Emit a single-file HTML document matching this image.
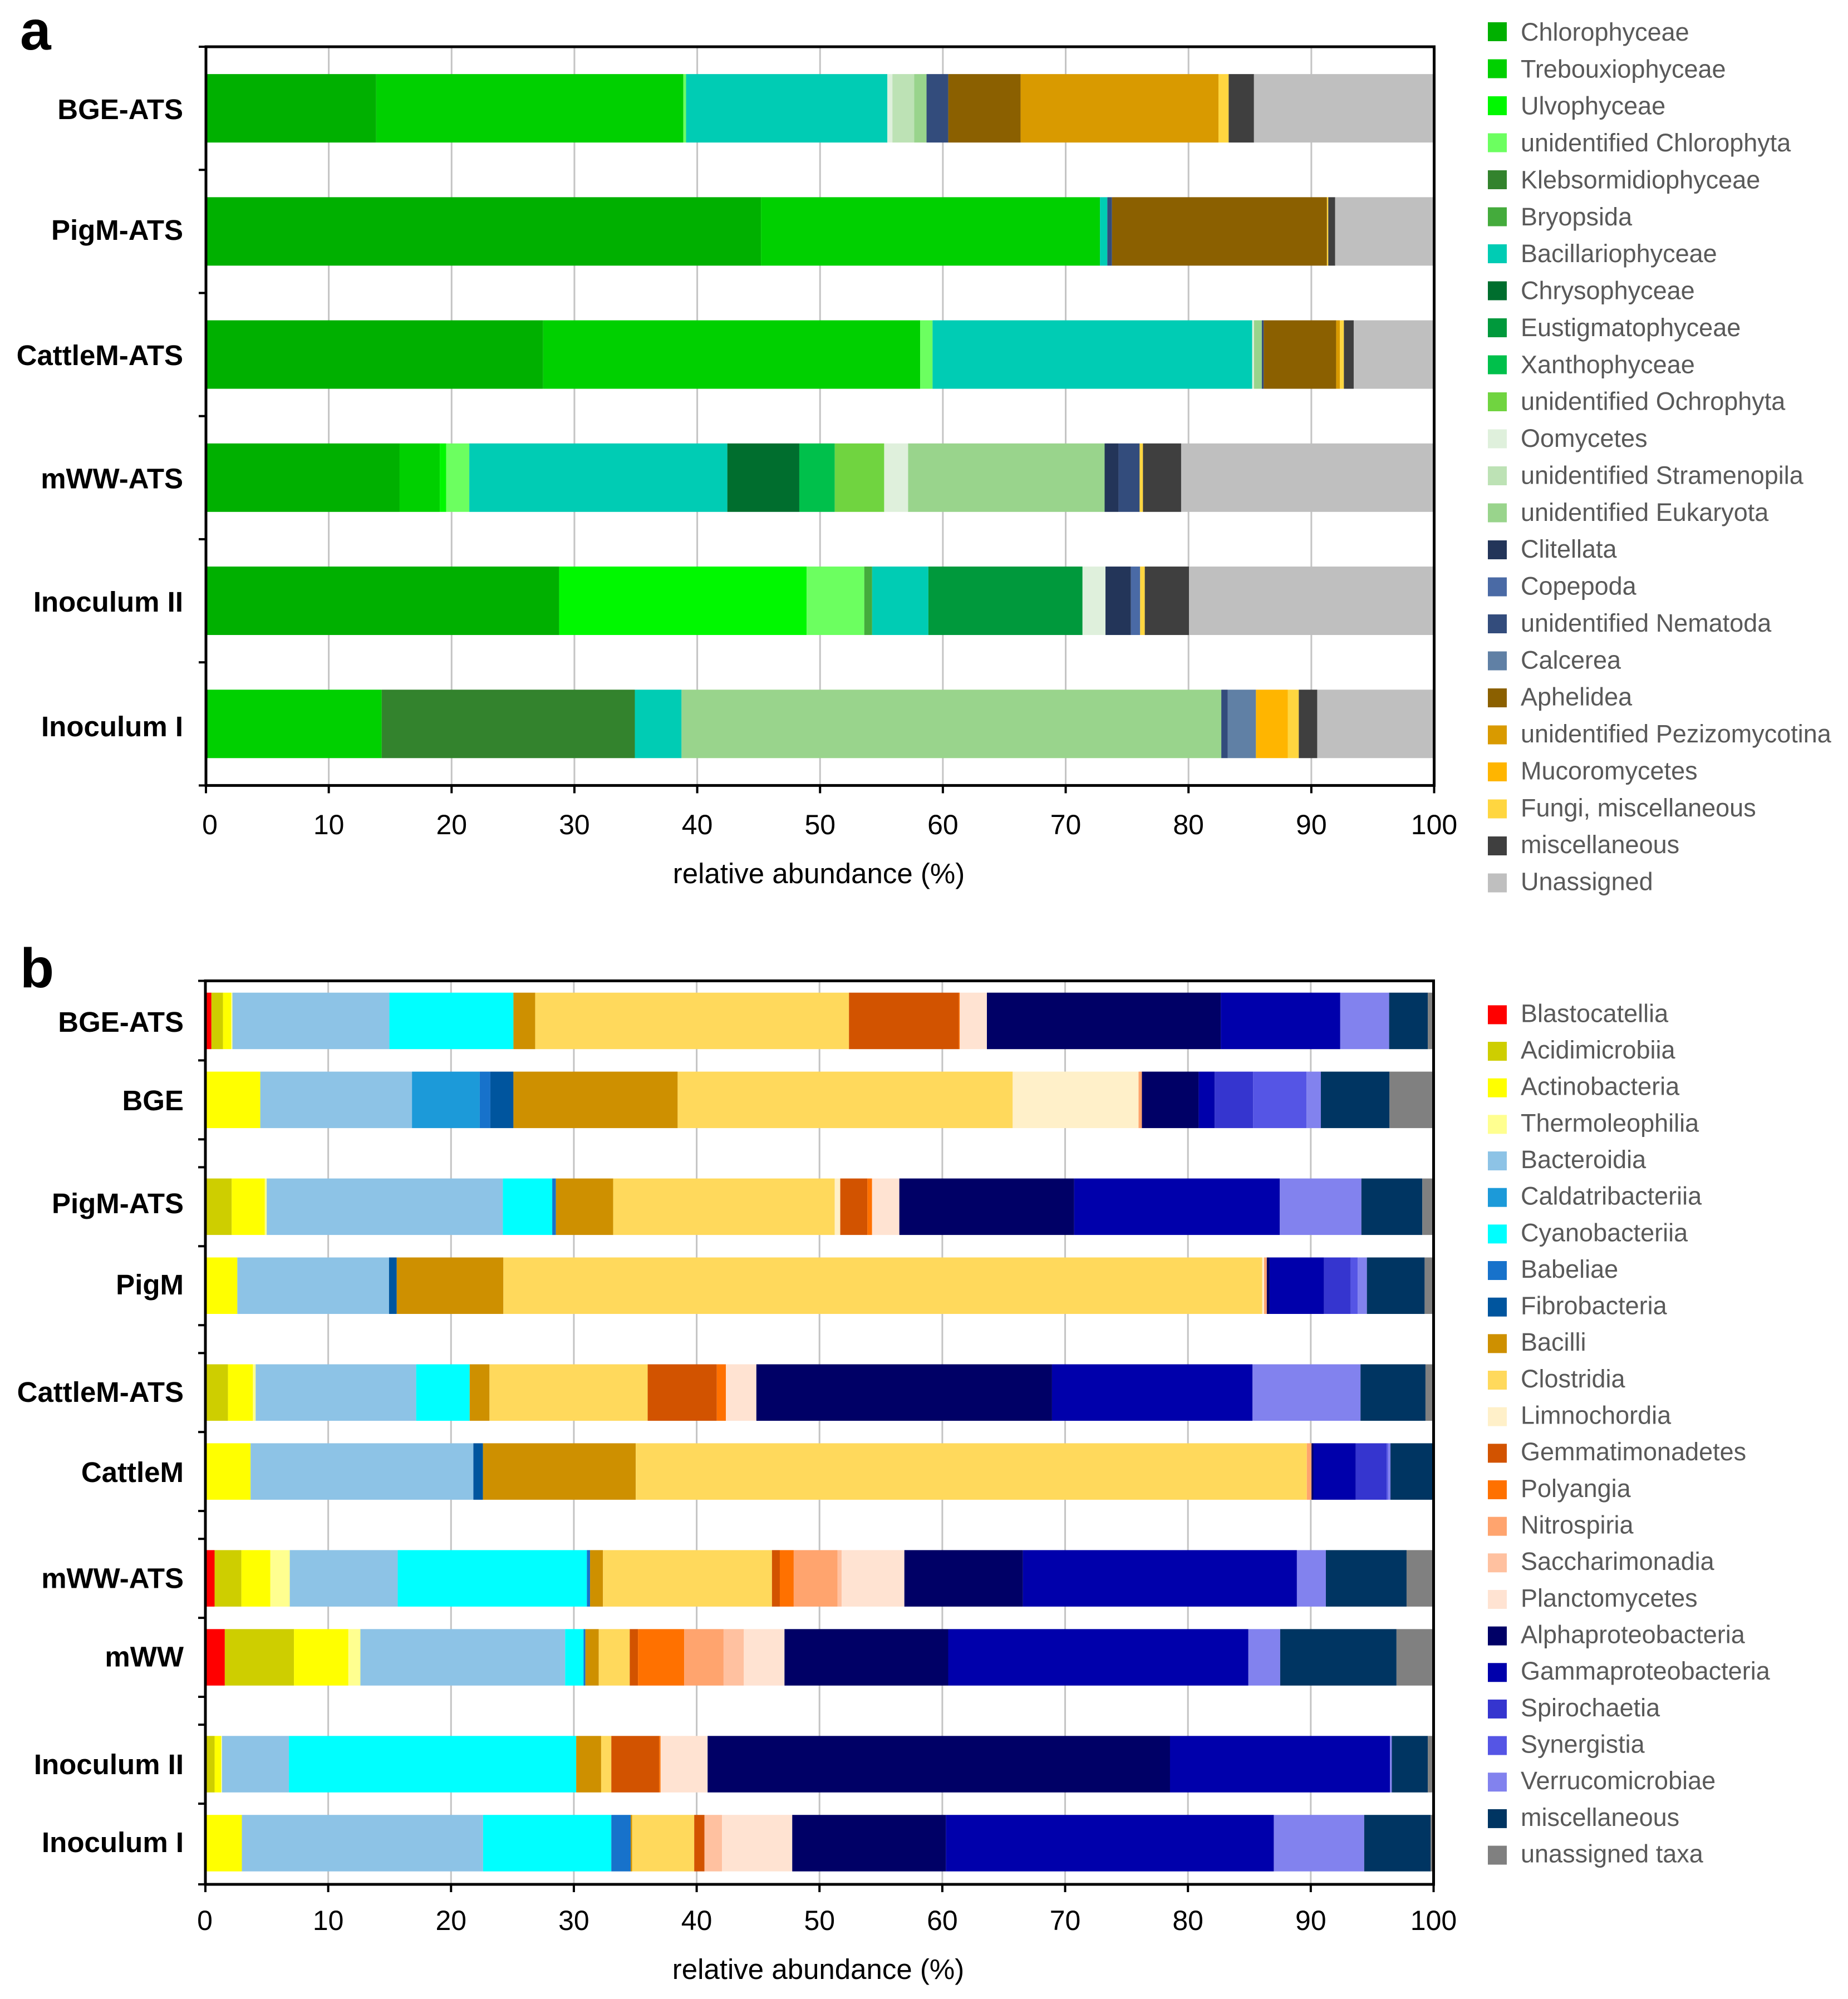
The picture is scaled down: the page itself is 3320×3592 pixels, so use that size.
<!DOCTYPE html>
<html lang="en">
<head>
<meta charset="utf-8">
<title>Relative abundance of taxa in ATS samples</title>
<style>
html,body{margin:0;padding:0;background:#fff;}
#figure{display:block;width:3320px;height:3592px;font-family:"Liberation Sans",Arial,sans-serif;}
</style>
</head>
<body>
<svg id="figure" xmlns="http://www.w3.org/2000/svg" width="3320" height="3592" viewBox="0 0 3320 3592">
<rect width="3320" height="3592" fill="#ffffff"/>
<text x="36" y="89" font-size="100" font-weight="700" fill="#000">a</text>
<text x="36" y="1774" font-size="100" font-weight="700" fill="#000">b</text>
<g id="panelA"></g>
<g id="panelB"></g>
</svg>
<script>
const tickLabels = [0, 10, 20, 30, 40, 50, 60, 70, 80, 90, 100];
const xAxisTitle = 'relative abundance (%)';

const categoriesA = ['BGE-ATS', 'PigM-ATS', 'CattleM-ATS', 'mWW-ATS', 'Inoculum II', 'Inoculum I'];
const taxaA = ['Chlorophyceae', 'Trebouxiophyceae', 'Ulvophyceae', 'unidentified Chlorophyta', 'Klebsormidiophyceae', 'Bryopsida', 'Bacillariophyceae', 'Chrysophyceae', 'Eustigmatophyceae', 'Xanthophyceae', 'unidentified Ochrophyta', 'Oomycetes', 'unidentified Stramenopila', 'unidentified Eukaryota', 'Clitellata', 'Copepoda', 'unidentified Nematoda', 'Calcerea', 'Aphelidea', 'unidentified Pezizomycotina', 'Mucoromycetes', 'Fungi, miscellaneous', 'miscellaneous', 'Unassigned'];
const coloursA = ['#00b000', '#00d000', '#00f800', '#6cff60', '#33832d', '#44ab3c', '#00ccb4', '#006e2e', '#00993c', '#00c04b', '#70d440', '#dff0dc', '#bde2b5', '#99d48c', '#233559', '#4a6aa5', '#334c7c', '#6080a5', '#8b6000', '#d99a00', '#ffb500', '#ffd640', '#3f3f3f', '#bfbfbf'];
const aBgeAts = [13.86, 25.01, 0, 0.22, 0, 0, 16.39, 0, 0, 0, 0, 0.41, 1.77, 1.01, 0, 0, 1.77, 0, 5.89, 16.11, 0, 0.83, 2.06, 14.67];
const aPigmAts = [45.19, 27.6, 0, 0, 0, 0, 0.6, 0, 0, 0, 0, 0, 0, 0, 0, 0, 0.38, 0, 17.5, 0, 0, 0.11, 0.56, 8.06];
const aCattleAts = [27.45, 30.7, 0, 1.01, 0, 0, 26.02, 0, 0, 0, 0, 0.15, 0, 0.64, 0, 0, 0.15, 0, 5.9, 0.3, 0, 0.33, 0.8, 6.55];
const aMwwAts = [15.77, 3.27, 0.52, 1.88, 0, 0, 21.01, 5.86, 0, 2.89, 4.02, 1.95, 0, 16.0, 1.13, 0, 1.72, 0, 0, 0, 0, 0.27, 3.11, 20.6];
const aInocII = [28.76, 0, 20.15, 4.69, 0, 0.64, 4.58, 0, 12.55, 0, 0, 1.87, 0, 0, 2.07, 0.75, 0, 0, 0, 0, 0, 0.38, 3.6, 19.96];
const aInocI = [0.2, 14.11, 0, 0, 20.61, 0, 3.8, 0, 0, 0, 0, 0, 0, 43.95, 0, 0, 0.53, 2.29, 0, 0, 2.59, 0.9, 1.5, 9.52];
const valuesA = [aBgeAts, aPigmAts, aCattleAts, aMwwAts, aInocII, aInocI];

const categoriesB = ['BGE-ATS', 'BGE', 'PigM-ATS', 'PigM', 'CattleM-ATS', 'CattleM', 'mWW-ATS', 'mWW', 'Inoculum II', 'Inoculum I'];
const taxaB = ['Blastocatellia', 'Acidimicrobiia', 'Actinobacteria', 'Thermoleophilia', 'Bacteroidia', 'Caldatribacteriia', 'Cyanobacteriia', 'Babeliae', 'Fibrobacteria', 'Bacilli', 'Clostridia', 'Limnochordia', 'Gemmatimonadetes', 'Polyangia', 'Nitrospiria', 'Saccharimonadia', 'Planctomycetes', 'Alphaproteobacteria', 'Gammaproteobacteria', 'Spirochaetia', 'Synergistia', 'Verrucomicrobiae', 'miscellaneous', 'unassigned taxa'];
const coloursB = ['#ff0000', '#cece00', '#ffff00', '#ffff90', '#8dc3e6', '#1c9ad9', '#00ffff', '#1772cb', '#00559e', '#ce9000', '#ffd95c', '#fff0c9', '#d25300', '#ff7100', '#ffa46e', '#ffc1a0', '#ffe3d2', '#000066', '#0000ab', '#3535cf', '#5555e5', '#8282ee', '#003562', '#808080'];
const bBgeAts = [0.49, 0.94, 0.67, 0.1, 12.78, 0, 10.1, 0, 0, 1.77, 25.55, 0, 8.94, 0.08, 0, 0, 2.21, 19.04, 9.73, 0, 0, 3.98, 3.15, 0.47];
const bBge = [0, 0, 4.47, 0, 12.35, 5.52, 0, 0.86, 1.88, 13.37, 27.28, 10.25, 0, 0, 0.27, 0, 0, 4.62, 1.31, 3.12, 4.35, 1.17, 5.59, 3.59];
const bPigmAts = [0, 2.14, 2.7, 0.15, 19.23, 0, 4.02, 0.3, 0, 4.66, 18.04, 0.45, 2.21, 0.38, 0, 0, 2.22, 14.23, 16.75, 0, 0, 6.64, 4.96, 0.92];
const bPigm = [0, 0, 2.6, 0, 12.35, 0, 0, 0, 0.63, 8.68, 61.79, 0.15, 0, 0, 0.22, 0, 0, 0.23, 4.43, 2.18, 0.56, 0.75, 4.7, 0.73];
const bCattleAts = [0.1, 1.74, 2.03, 0.22, 13.07, 0, 4.36, 0, 0, 1.61, 12.88, 0, 5.63, 0.74, 0, 0, 2.48, 24.07, 16.33, 0, 0, 8.79, 5.29, 0.66];
const bCattle = [0, 0, 3.68, 0, 18.14, 0, 0, 0, 0.78, 12.44, 54.64, 0, 0, 0, 0.38, 0, 0, 0.15, 3.45, 2.52, 0.12, 0.19, 3.41, 0.1];
const bMwwAts = [0.75, 2.18, 2.36, 1.58, 8.79, 0, 15.4, 0.26, 0, 1.05, 13.76, 0, 0.64, 1.13, 3.56, 0.34, 5.11, 9.65, 22.31, 0, 0, 2.36, 6.57, 2.2];
const bMww = [1.58, 5.63, 4.43, 0.98, 16.67, 0, 1.5, 0.15, 0, 1.09, 2.52, 0, 0.67, 3.76, 3.21, 1.65, 3.31, 13.33, 24.44, 0, 0, 2.59, 9.47, 3.02];
const bInocII = [0, 0.75, 0.53, 0.07, 5.45, 0, 23.39, 0, 0, 2.03, 0.83, 0, 3.9, 0.11, 0, 0, 3.83, 37.65, 17.91, 0, 0, 0.15, 2.93, 0.47];
const bInocI = [0, 0, 2.97, 0, 19.64, 0, 10.44, 1.58, 0, 0.11, 5.06, 0, 0.83, 0, 0, 1.43, 5.72, 12.51, 26.7, 0, 0, 7.36, 5.41, 0.24];
const valuesB = [bBgeAts, bBge, bPigmAts, bPigm, bCattleAts, bCattle, bMwwAts, bMww, bInocII, bInocI];

const NS = 'http://www.w3.org/2000/svg';

function svgEl(parent, tag, attrs, text) {
  const el = document.createElementNS(NS, tag);
  for (const k in attrs) el.setAttribute(k, attrs[k]);
  if (text !== undefined) el.textContent = text;
  parent.appendChild(el);
  return el;
}

function slug(s) {
  return s.toLowerCase().replace(/[^a-z0-9]+/g, '-').replace(/^-|-$/g, '');
}

function drawPanel(root, cfg) {
  const n = cfg.categories.length;
  const x = v => cfg.x0 + (v / 100) * (cfg.x100 - cfg.x0);
  const bandStart = i => cfg.bandTop + i * cfg.step + Math.floor(i / cfg.groupSize) * cfg.groupGap;
  const bandCentre = i => bandStart(i) + cfg.step / 2;

  tickLabels.forEach(t => {
    if (t === 0 || t === 100) return;
    const line = svgEl(root, 'line', {x1: x(t), x2: x(t), y1: cfg.top, y2: cfg.bottom, stroke: '#c4c4c4', 'stroke-width': 3});
    
    
  });

  cfg.categories.forEach((cat, r) => {
    const row = svgEl(root, 'g', {});
    
    
    let cum = 0;
    cfg.values[r].forEach((v, s) => {
      if (v > 0) {
        const seg = svgEl(row, 'rect', {x: x(cum), width: x(cum + v) - x(cum), y: bandCentre(r) - cfg.barH / 2, height: cfg.barH, fill: cfg.colours[s]});
        
        
      }
      cum += v;
    });
    const label = svgEl(root, 'text', {x: cfg.labelRight, y: bandCentre(r) + 18 + cfg.labelNudge[r], 'text-anchor': 'end', 'font-size': 51, 'font-weight': 700, fill: '#000'}, cat);
    
    
  });

  for (let i = 0; i <= n; i++) {
    let edges;
    if (i === 0) edges = [cfg.top];
    else if (i === n) edges = [cfg.bottom];
    else if (i % cfg.groupSize === 0) edges = [bandStart(i) - cfg.groupGap, bandStart(i)];
    else edges = [bandStart(i)];
    edges.forEach(y => {
      const tick = svgEl(root, 'line', {x1: cfg.x0 - 13, x2: cfg.x0, y1: y, y2: y, stroke: '#000', 'stroke-width': 4});
      
      
    });
  }

  tickLabels.forEach(t => {
    const tick = svgEl(root, 'line', {x1: x(t), x2: x(t), y1: cfg.bottom, y2: cfg.bottom + 14, stroke: '#000', 'stroke-width': 4});
    
    
    const lab = svgEl(root, 'text', {x: x(t) + (t === 0 ? cfg.zeroDx : 0), y: cfg.tickBase, 'text-anchor': 'middle', 'font-size': 50, fill: '#000'}, String(t));
    
    
  });

  const frame = svgEl(root, 'rect', {x: cfg.x0, y: cfg.top, width: cfg.x100 - cfg.x0, height: cfg.bottom - cfg.top, fill: 'none', stroke: '#000', 'stroke-width': 5});
  
  

  const title = svgEl(root, 'text', {x: cfg.titleX, y: cfg.titleBase, 'text-anchor': 'middle', 'font-size': 51, fill: '#000'}, xAxisTitle);
  
  

  const legend = svgEl(root, 'g', {});
  
  
  cfg.taxa.forEach((name, i) => {
    const cy = cfg.legendY + i * cfg.legendStep;
    const sw = svgEl(legend, 'rect', {x: 2673, y: cy - 17, width: 34, height: 34, fill: cfg.colours[i]});
    
    
    const txt = svgEl(legend, 'text', {x: 2732, y: cfg.legendTextY + i * cfg.legendTextStep, 'font-size': 45, fill: '#595959'}, name);
    
    
  });
}

drawPanel(document.getElementById('panelA'), {
  categories: categoriesA, taxa: taxaA, colours: coloursA, values: valuesA,
  x0: 370, x100: 2576.5, top: 84, bottom: 1411.4, bandTop: 84, step: 221.23, groupSize: 6, groupGap: 0, barH: 123,
  labelRight: 329, labelNudge: [1.4, -2.8, 1, 1.3, 1.3, 4.3], tickBase: 1499, zeroDx: 7, titleX: 1471, titleBase: 1587,
  legendY: 57, legendStep: 66.5, legendTextY: 73, legendTextStep: 66.37
});

drawPanel(document.getElementById('panelB'), {
  categories: categoriesB, taxa: taxaB, colours: coloursB, values: valuesB,
  x0: 369, x100: 2575.5, top: 1762.5, bottom: 3386, bandTop: 1763.5, step: 141.9, groupSize: 2, groupGap: 50.1, barH: 101.5,
  labelRight: 330, labelNudge: [1.5, 0.6, -6.6, -2.2, -1.2, 0.9, -0.6, -1.4, 0, -2], tickBase: 3468, zeroDx: -1, titleX: 1470, titleBase: 3556,
  legendY: 1823.4, legendStep: 65.66, legendTextY: 1836.3, legendTextStep: 65.66
});
</script>
</body>
</html>
